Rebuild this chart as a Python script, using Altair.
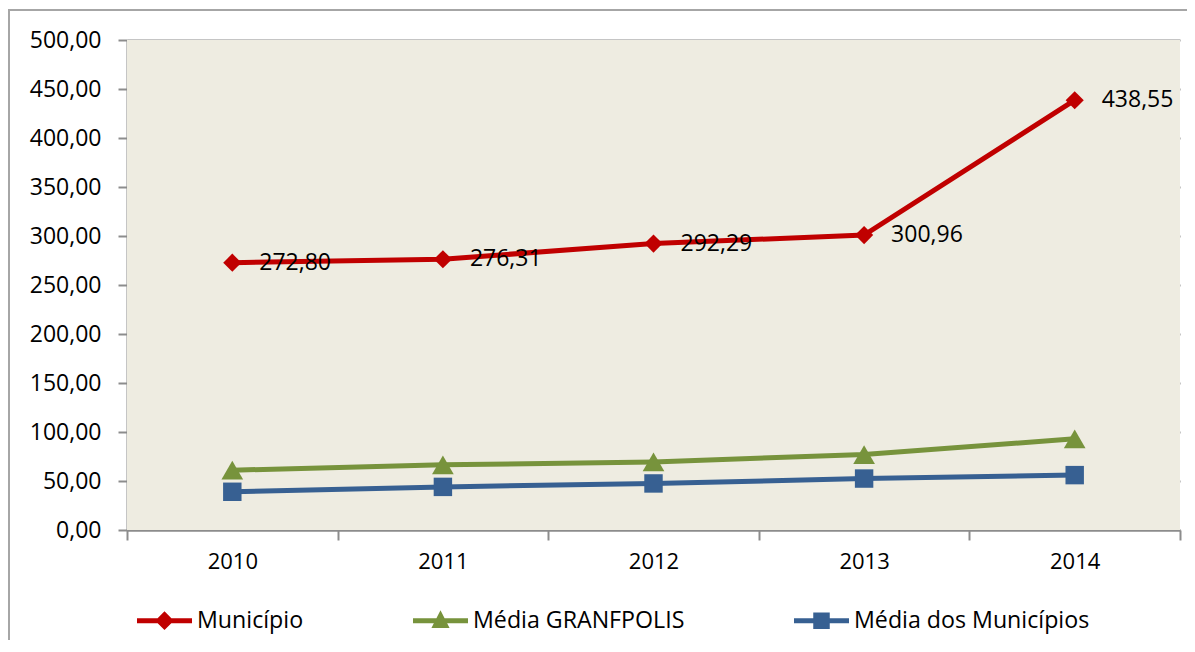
import altair as alt
import pandas as pd

years = ["2010", "2011", "2012", "2013", "2014"]
series_names = ["Município", "Média GRANFPOLIS", "Média dos Municípios"]
municipio = [272.80, 276.31, 292.29, 300.96, 438.55]
media_granfpolis = [61.0, 66.5, 69.5, 77.0, 93.0]
media_municipios = [39.0, 44.0, 47.5, 52.5, 56.0]
colors = ["#C00000", "#77933C", "#376092"]
shapes = ["diamond", "triangle-up", "square"]
marker_sizes = [330, 470, 340]
legend_paths = [
    "M-1,-0.09L1,-0.09L1,0.09L-1,0.09Z M0,-0.34L0.34,0L0,0.34L-0.34,0Z",
    "M-1,-0.09L1,-0.09L1,0.09L-1,0.09Z M0,-0.38L0.33,0.27L-0.33,0.27Z",
    "M-1,-0.09L1,-0.09L1,0.09L-1,0.09Z M-0.3,-0.3L0.3,-0.3L0.3,0.3L-0.3,0.3Z",
]

rows = []
for s, vals, c, sh, sz in zip(series_names, [municipio, media_granfpolis, media_municipios],
                              colors, shapes, marker_sizes):
    for y, v in zip(years, vals):
        rows.append({"year": y, "value": v, "series": s, "col": c, "shp": sh, "sz": sz,
                     "label": f"{v:.2f}".replace(".", ",")})
df = pd.DataFrame(rows)

FONT = "Open Sans"

x_enc = alt.X("year:O", bandPosition=0.5,
              scale=alt.Scale(type="band", paddingInner=0, paddingOuter=0),
              axis=alt.Axis(title=None, tickBand="extent", tickSize=10, tickColor="#8c8c8c",
                            tickWidth=2, domainColor="#8c8c8c", domainWidth=2,
                            labelFont=FONT, labelFontSize=22, labelColor="#000000",
                            labelPadding=11, labelAngle=0, grid=False))
y_enc = alt.Y("value:Q",
              scale=alt.Scale(domain=[0, 500], nice=False, zero=True),
              axis=alt.Axis(title=None, values=list(range(0, 501, 50)),
                            labelExpr="replace(format(datum.value, '.2f'), '.', ',')",
                            tickSize=9, tickColor="#8c8c8c", tickWidth=2,
                            domainColor="#8c8c8c", domainWidth=2,
                            gridColor="#8c8c8c", gridWidth=2,
                            labelFont=FONT, labelFontSize=23, labelColor="#000000",
                            labelPadding=17))

base = alt.Chart(df)

plot_bg = base.mark_rect(fill="#EEECE1", stroke=None).encode(
    x=alt.value(0), x2=alt.value(1053), y=alt.value(0), y2=alt.value(490)
).transform_filter("datum.year == '2010' && datum.series == 'Município'")

frame = base.mark_rect(fill=None, stroke="#a6a6a6", strokeWidth=2).encode(
    x=alt.value(-118), x2=alt.value(1200), y=alt.value(-30), y2=alt.value(800)
).transform_filter("datum.year == '2010' && datum.series == 'Município'")

lines = base.mark_line(strokeWidth=5).encode(
    x=x_enc, y=y_enc, color=alt.Color("col:N", scale=None), detail="series:N"
)
points = base.mark_point(filled=True, opacity=1).encode(
    x=x_enc, y=y_enc, color=alt.Color("col:N", scale=None),
    shape=alt.Shape("shp:N", scale=None), size=alt.Size("sz:Q", scale=None)
)
labels = base.mark_text(align="left", baseline="middle", dx=27, font=FONT, fontSize=23,
                        color="#000000").encode(
    x=x_enc, y=y_enc, text="label:N"
).transform_filter(alt.datum.series == "Município")

legend_layer = base.mark_point(filled=True, opacity=1).encode(
    color=alt.Color("series:N", scale=alt.Scale(domain=series_names, range=colors),
                    legend=alt.Legend(orient="none", legendX=10, legendY=553, direction="horizontal",
                                      title=None, symbolSize=3025, symbolStrokeWidth=0,
                                      symbolOpacity=1,
                                      labelFont=FONT, labelFontSize=23.2, labelColor="#000000",
                                      labelOffset=5, columnPadding=109, labelLimit=400)),
    shape=alt.Shape("series:N", scale=alt.Scale(domain=series_names, range=legend_paths)),
).transform_filter("false")

chart = alt.layer(plot_bg, frame, lines, points, labels, legend_layer).properties(
    width=1053, height=490,
    autosize=alt.AutoSizeParams(type="none"),
    padding={"left": 119, "top": 32, "right": 7, "bottom": 110},
    background="#ffffff",
).configure_view(stroke=None)

chart.save("out.html", embed_options={"renderer": "svg", "actions": False})
